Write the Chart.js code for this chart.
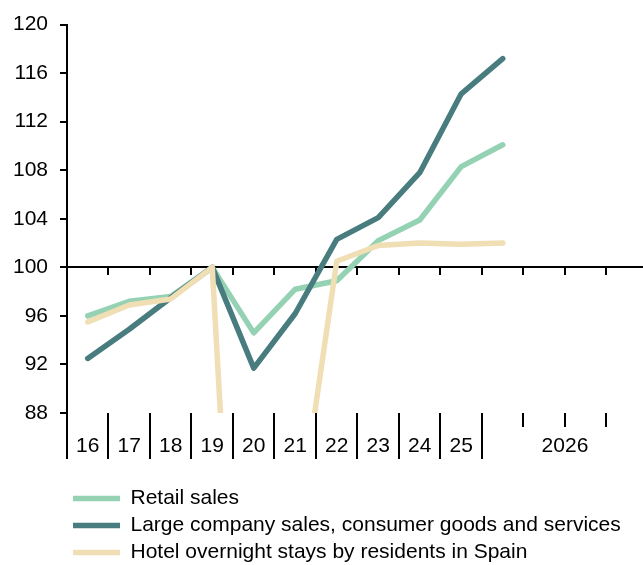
<!DOCTYPE html>
<html>
<head>
<meta charset="utf-8">
<script src="https://cdn.jsdelivr.net/npm/chart.js@4.4.1/dist/chart.umd.min.js"></script>
<style>
  html, body { margin: 0; padding: 0; background: #ffffff; }
  #wrap { width: 643px; height: 565px; position: relative; }
</style>
</head>
<body>
<div id="wrap"><canvas id="chart"></canvas></div>
<script>
// Index, 2019 = 100
const periods = ['2016', '2017', '2018', '2019', '2020', '2021', '2022', '2023', '2024', '2025', '2026 Q1'];
const retailSales = [96.0, 97.2, 97.6, 100, 94.6, 98.2, 98.9, 102.2, 103.9, 108.3, 110.1];
const largeCompanySales = [92.5, 94.9, 97.5, 100, 91.7, 96.2, 102.3, 104.1, 107.8, 114.3, 117.2];
const hotelStays = [95.5, 96.9, 97.4, 100, 39.0, 77.0, 100.5, 101.8, 102.0, 101.9, 102.0];

// Axis labels
const yearLabels = ['16', '17', '18', '19', '20', '21', '22', '23', '24', '25'];
const forecastLabel = '2026';
const forecastQuarters = 4;
const yTicks = [88, 92, 96, 100, 104, 108, 112, 116, 120];

const seriesNames = [
  'Retail sales',
  'Large company sales, consumer goods and services',
  'Hotel overnight stays by residents in Spain'
];
const seriesColors = ['#95D2B4', '#487C7E', '#F0DEB4'];

// Each period occupies one slot on the x scale; the 2026 block is split in quarters.
const slotCount = yearLabels.length + forecastQuarters;
const visibleSlots = slotCount - 0.12;
const forecastCentre = yearLabels.length + forecastQuarters / 2;

const toPoints = values => values.map((v, i) => ({ x: i + 0.5, y: v }));
const range = (a, b) => Array.from({ length: b - a + 1 }, (_, k) => a + k);

const labelTicks = yearLabels.map((_, i) => ({ value: i + 0.5 })).concat([{ value: forecastCentre }]);
const yearBoundaries = range(0, yearLabels.length).map(v => ({ value: v }));
const quarterBoundaries = range(yearLabels.length + 1, slotCount - 1).map(v => ({ value: v }));
const allBoundaries = range(1, slotCount - 1).map(v => ({ value: v }));

function labelFor(value) {
  if (value === forecastCentre) return forecastLabel;
  return yearLabels[Math.floor(value)];
}

Chart.defaults.font.family = '"Liberation Sans", Arial, sans-serif';
Chart.defaults.color = '#000000';

const black = '#000000';
const font = { size: 21 };
const lineWidth = 5.5;

const hiddenScale = (ticks, tickLength) => ({
  type: 'linear',
  min: 0,
  max: visibleSlots,
  afterBuildTicks: axis => { axis.ticks = ticks.map(t => ({ ...t })); },
  ticks: { display: false },
  grid: { drawOnChartArea: false, drawTicks: true, tickLength: tickLength, color: black, lineWidth: 2 },
  border: { display: false }
});

const makeDataset = (idx, values, order) => ({
  label: seriesNames[idx],
  data: toPoints(values),
  borderColor: seriesColors[idx],
  backgroundColor: seriesColors[idx],
  borderWidth: lineWidth,
  borderCapStyle: 'round',
  borderJoinStyle: 'round',
  tension: 0,
  fill: false,
  pointRadius: 0,
  pointHoverRadius: 0,
  order: order,
  xAxisID: 'x',
  yAxisID: 'y'
});

new Chart(document.getElementById('chart'), {
  type: 'line',
  data: {
    datasets: [
      makeDataset(0, retailSales, 3),
      makeDataset(1, largeCompanySales, 2),
      makeDataset(2, hotelStays, 1)
    ]
  },
  options: {
    responsive: true,
    maintainAspectRatio: false,
    animation: false,
    events: [],
    layout: { padding: { top: 18, right: 0, bottom: -8, left: 0 } },
    scales: {
      x: {
        type: 'linear',
        position: 'bottom',
        min: 0,
        max: visibleSlots,
        afterBuildTicks: axis => { axis.ticks = labelTicks.map(t => ({ ...t })); },
        afterFit: scale => { scale.height = 69; },
        ticks: {
          autoSkip: false,
          maxRotation: 0,
          padding: 21,
          font: font,
          color: black,
          callback: value => labelFor(value)
        },
        grid: { display: false, drawTicks: false },
        border: { display: false }
      },
      y: {
        type: 'linear',
        position: 'left',
        min: yTicks[0],
        max: yTicks[yTicks.length - 1],
        afterBuildTicks: axis => { axis.ticks = yTicks.map(v => ({ value: v })); },
        afterFit: scale => { scale.width = 67; },
        ticks: { padding: 12, font: font, color: black },
        grid: { drawOnChartArea: false, tickLength: 7, color: black, lineWidth: 2 },
        border: { color: black, width: 2 }
      },
      // Horizontal axis line crossing at 100 with a tick at every slot boundary
      xAxis100: {
        type: 'linear',
        position: { y: 100 },
        min: 0,
        max: visibleSlots,
        afterBuildTicks: axis => { axis.ticks = allBoundaries.map(t => ({ ...t })); },
        ticks: { display: false },
        grid: { drawOnChartArea: false, drawTicks: true, tickLength: 7, color: black, lineWidth: 2 },
        border: { display: true, color: black, width: 2 }
      },
      // Long separators between the year labels under the plot
      xYearSeparators: Object.assign(hiddenScale(yearBoundaries, 46), { position: { y: yTicks[0] } }),
      // Short quarter marks inside the 2026 block
      xQuarterMarks: Object.assign(hiddenScale(quarterBoundaries, 14), { position: { y: yTicks[0] } })
    },
    plugins: {
      legend: {
        display: true,
        position: 'bottom',
        align: 'start',
        fullSize: false,
        labels: {
          usePointStyle: true,
          pointStyle: 'line',
          pointStyleWidth: 47,
          padding: 6,
          color: black,
          font: font,
          sort: (a, b) => a.datasetIndex - b.datasetIndex
        }
      },
      tooltip: { enabled: false }
    }
  }
});
</script>
</body>
</html>
